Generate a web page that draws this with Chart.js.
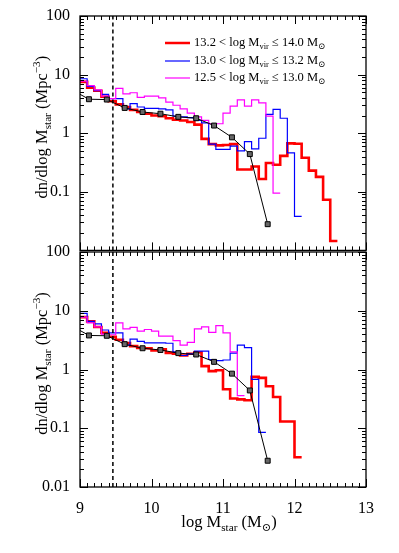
<!DOCTYPE html>
<html>
<head>
<meta charset="utf-8">
<script src="https://cdn.jsdelivr.net/npm/chart.js@4.4.1/dist/chart.umd.min.js"></script>
<style>
html, body { margin: 0; padding: 0; background: #fff; }
#wrap { position: relative; width: 399px; height: 553px; }
canvas { position: absolute; left: 0; }
#topChart { top: 0; }
#botChart { top: 236px; }
</style>
</head>
<body>
<div id="wrap">
  <canvas id="topChart" width="399" height="262"></canvas>
  <canvas id="botChart" width="399" height="317"></canvas>
</div>
<script>
// bin edges of the histograms (log Mstar)
const binEdges = [9.0, 9.1, 9.2, 9.3, 9.4, 9.5, 9.6, 9.7, 9.8, 9.9,
    10.0, 10.1, 10.2, 10.3, 10.4, 10.5, 10.6, 10.7, 10.8, 10.9,
    11.0, 11.1, 11.2, 11.3, 11.4, 11.5, 11.6, 11.7, 11.8, 11.9,
    12.0, 12.1, 12.2, 12.3, 12.4, 12.5, 12.6];

// top panel
const topRed = [7.5, 6.0, 5.3, 4.2, 3.5, 3.1, 2.8, 2.5, 2.3, 2.15,
    2.0, 1.95, 1.8, 1.7, 1.65, 1.55, 1.4, 0.8, 0.65, 0.62,
    0.63, 0.65, 0.24, 0.24, 0.27, 0.165, 0.31, 0.29, 0.41, 0.67,
    0.66, 0.38, 0.23, 0.18, 0.073, 0.0145];
const topBlue = [8.5, 6.3, 5.3, 4.6, 3.9, 3.9, 2.6, 3.2, 2.8, 2.65,
    2.65, 2.6, 2.5, 1.95, 1.9, 1.85, 1.65, 1.5, 0.65, 0.53,
    0.53, 0.6, 0.5, 0.72, 0.54, 0.82, 2.1, 2.55, 1.8, 0.46,
    0.038];
const topMagenta = [7.7, 6.5, 5.5, 4.3, 3.9, 5.8, 4.7, 4.9, 4.1, 4.3,
    4.3, 4.0, 3.4, 3.0, 2.6, 2.2, 1.9, 1.65, 1.45, 1.45,
    2.2, 2.9, 3.7, 2.9, 3.7, 3.3, 1.95, 0.095];

// bottom panel
const botRed = [7.8, 6.6, 5.3, 4.2, 3.6, 3.2, 2.83, 2.5, 2.33, 2.3,
    2.1, 2.2, 1.92, 1.85, 1.73, 1.85, 1.97, 1.14, 0.94, 0.97,
    0.46, 0.32, 0.31, 0.30, 0.75, 0.72, 0.52, 0.34, 0.13, 0.13,
    0.032];
const botBlue = [9.0, 6.6, 6.0, 4.7, 4.2, 4.2, 2.6, 3.3, 3.0, 2.85,
    2.85, 2.85, 2.8, 2.0, 1.73, 1.85, 2.05, 2.05, 1.48, 1.42,
    1.45, 1.9, 2.6, 2.35, 0.68, 0.085];
const botMagenta = [7.8, 6.2, 5.3, 4.0, 3.9, 6.2, 4.9, 5.2, 4.5, 4.8,
    4.5, 3.7, 3.7, 3.1, 2.6, 2.9, 4.9, 5.3, 4.3, 5.6,
    4.2, 2.0, 0.36];

// observed mass function (black squares), same in both panels
const obsX = [8.875, 9.125, 9.375, 9.625, 9.875, 10.125, 10.375, 10.625, 10.875, 11.125, 11.375, 11.625];
const obsY = [5.6, 3.8, 3.75, 2.7, 2.3, 2.15, 1.9, 1.8, 1.35, 0.85, 0.44, 0.028];

const cutX = 9.46;

const xTicks = [9, 10, 11, 12, 13];
const yTicks = [0.01, 0.1, 1, 10, 100];
const yTickLabels = ['0.01', '0.1', '1', '10', '100'];

const legendLabels = ['13.2 < log M', '13.0 < log M', '12.5 < log M'];
const legendUpper = ['14.0', '13.2', '13.0'];

const FONT = "'Liberation Serif', 'DejaVu Serif', serif";
Chart.defaults.font.family = FONT;
Chart.defaults.font.size = 16;
Chart.defaults.color = '#000';

function histPoints(values) {
    const pts = values.map((v, i) => ({x: binEdges[i], y: v}));
    pts.push({x: binEdges[values.length], y: values[values.length - 1]});
    return pts;
}

function richWidth(ctx, parts, size) {
    let w = 0;
    parts.forEach(p => {
        ctx.font = (size * p.s) + 'px ' + FONT;
        w += ctx.measureText(p.t).width;
    });
    return w;
}

function drawRich(ctx, parts, x, y, size, align) {
    let cx = align === 'center' ? x - richWidth(ctx, parts, size) / 2 : x;
    parts.forEach(p => {
        ctx.font = (size * p.s) + 'px ' + FONT;
        ctx.fillText(p.t, cx, y + p.dy * size);
        cx += ctx.measureText(p.t).width;
    });
}

const yTitle = [
    {t: 'dn/dlog M', s: 1, dy: 0},
    {t: 'star', s: 0.68, dy: 0.28},
    {t: ' (Mpc', s: 1, dy: 0},
    {t: '\u22123', s: 0.68, dy: -0.38},
    {t: ')', s: 1, dy: 0}
];

const frameTicks = {
    id: 'frameTicks',
    afterDraw(chart) {
        const ctx = chart.ctx;
        const a = chart.chartArea;
        const x = chart.scales.x, y = chart.scales.y;
        ctx.save();
        ctx.strokeStyle = '#000';
        ctx.lineWidth = 1;
        ctx.beginPath();
        for (let k = 90; k <= 130; k++) {
            const px = Math.round(x.getPixelForValue(k / 10)) + 0.5;
            const len = k % 10 === 0 ? 8 : 4;
            ctx.moveTo(px, a.top); ctx.lineTo(px, a.top + len);
            ctx.moveTo(px, a.bottom); ctx.lineTo(px, a.bottom - len);
        }
        for (let e = -2; e <= 1; e++) {
            for (let m = 1; m <= 10; m++) {
                const py = Math.round(y.getPixelForValue(m * Math.pow(10, e))) + 0.5;
                const len = (m === 1 || m === 10) ? 8 : 4;
                ctx.moveTo(a.left, py); ctx.lineTo(a.left + len, py);
                ctx.moveTo(a.right, py); ctx.lineTo(a.right - len, py);
            }
        }
        ctx.stroke();
        ctx.lineWidth = 1.3;
        ctx.strokeRect(a.left, a.top, a.right - a.left, a.bottom - a.top);

        // y axis title
        ctx.fillStyle = '#000';
        ctx.textBaseline = 'middle';
        ctx.save();
        const cy = (a.top + a.bottom) / 2 - 6;
        ctx.translate(43, cy);
        ctx.rotate(-Math.PI / 2);
        drawRich(ctx, yTitle, 0, 0, 16.5, 'center');
        ctx.restore();

        const extra = chart.options.plugins.frameTicks;
        if (extra && extra.legend) drawLegend(ctx);
        if (extra && extra.xTitle) {
            drawRich(ctx, [
                {t: 'log M', s: 1, dy: 0},
                {t: 'star', s: 0.68, dy: 0.28},
                {t: ' (M', s: 1, dy: 0},
                {t: '\u2299', s: 0.68, dy: 0.28},
                {t: ')', s: 1, dy: 0}
            ], 229, a.bottom + 36, 16.5, 'center');
        }
        ctx.restore();
    }
};

function drawLegend(ctx) {
    const colors = ['#ff0000', '#0000ff', '#ff00ff'];
    const widths = [2.5, 1.2, 1.2];
    const rows = [43, 61, 78];
    ctx.textBaseline = 'middle';
    ctx.fillStyle = '#000';
    rows.forEach((ry, i) => {
        ctx.strokeStyle = colors[i];
        ctx.lineWidth = widths[i];
        ctx.beginPath();
        ctx.moveTo(165, ry); ctx.lineTo(190, ry);
        ctx.stroke();
        drawRich(ctx, [
            {t: legendLabels[i], s: 1, dy: 0},
            {t: 'vir', s: 0.68, dy: 0.28},
            {t: ' \u2264 ' + legendUpper[i] + ' M', s: 1, dy: 0},
            {t: '\u2299', s: 0.68, dy: 0.28}
        ], 194, ry, 12.5, 'left');
    });
}

function makeDatasets(red, blue, magenta) {
    return [
        {
            data: obsX.map((v, i) => ({x: v, y: obsY[i]})),
            borderColor: '#000', borderWidth: 1,
            pointStyle: 'rect', pointRadius: 3.5,
            pointBackgroundColor: '#666', pointBorderColor: '#000', pointBorderWidth: 1
        },
        {
            data: [{x: cutX, y: 0.01}, {x: cutX, y: 100}],
            borderColor: '#000', borderWidth: 1.5, borderDash: [4, 3], pointRadius: 0
        },
        {data: histPoints(magenta), borderColor: '#ff00ff', borderWidth: 1.2, stepped: true, pointRadius: 0},
        {data: histPoints(blue), borderColor: '#0000ff', borderWidth: 1.2, stepped: true, pointRadius: 0},
        {data: histPoints(red), borderColor: '#ff0000', borderWidth: 2.6, stepped: true, pointRadius: 0}
    ];
}

function makeChart(id, red, blue, magenta, isTop) {
    return new Chart(document.getElementById(id), {
        type: 'line',
        data: {datasets: makeDatasets(red, blue, magenta)},
        options: {
            responsive: false,
            animation: false,
            devicePixelRatio: 1,
            layout: {padding: {left: 0, right: 33, top: 16, bottom: isTop ? 10 : 0}},
            plugins: {
                legend: {display: false},
                tooltip: {enabled: false},
                frameTicks: {legend: isTop, xTitle: !isTop}
            },
            scales: {
                x: {
                    type: 'linear', min: 9, max: 13,
                    grid: {display: false}, border: {display: false},
                    afterBuildTicks: s => { s.ticks = xTicks.map(v => ({value: v})); },
                    ticks: {display: !isTop, padding: 4, font: {size: 16}, callback: v => String(v)},
                    afterFit: s => { s.height = isTop ? 0 : 66; }
                },
                y: {
                    type: 'logarithmic', min: 0.01, max: 100,
                    grid: {display: false}, border: {display: false},
                    afterBuildTicks: s => {
                        s.ticks = yTicks.filter(v => !(isTop && v === 0.01)).map(v => ({value: v}));
                    },
                    ticks: {
                        padding: 2, autoSkip: false, font: {size: 16},
                        callback: v => yTickLabels[yTicks.indexOf(v)]
                    },
                    afterFit: s => { s.width = 80; }
                }
            }
        },
        plugins: [frameTicks]
    });
}

makeChart('topChart', topRed, topBlue, topMagenta, true);
makeChart('botChart', botRed, botBlue, botMagenta, false);
</script>
</body>
</html>
